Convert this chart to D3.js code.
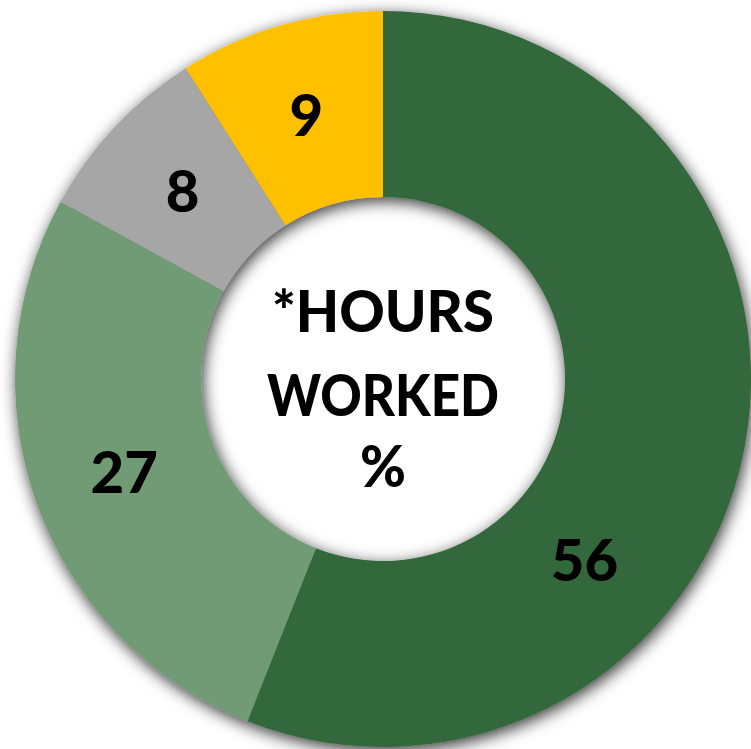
<!DOCTYPE html>
<html>
<head>
<meta charset="utf-8">
<script src="https://cdn.jsdelivr.net/npm/d3@7"></script>
<style>
  html, body { margin: 0; padding: 0; background: #fff; }
  svg { display: block; }
</style>
</head>
<body>
<script>
'use strict';

// data
const categories = ["Segment 1", "Segment 2", "Segment 3", "Segment 4"];
const values = [56, 27, 8, 9];
const colors = ["#33673b", "#709b75", "#a6a6a6", "#ffc000"];
const centerLines = ["*HOURS", "WORKED", "%"];

function createDonut(width, height) {
    let svg = d3.create("svg")
        .attr("width", width)
        .attr("height", height);

    let cx = 383, cy = 379;
    let outer = 368, inner = 182;

    let defs = svg.append("defs");
    let f = defs.append("filter")
        .attr("id", "shadow")
        .attr("x", "-20%").attr("y", "-20%")
        .attr("width", "140%").attr("height", "140%");
    f.append("feDropShadow")
        .attr("dx", 2).attr("dy", 4)
        .attr("stdDeviation", 8)
        .attr("flood-color", "#000")
        .attr("flood-opacity", 0.8);

    let color = d3.scaleOrdinal().domain(categories).range(colors);

    let pie = d3.pie().sort(null).value(d => d.value);
    let arcs = pie(categories.map((c, i) => ({ key: c, value: values[i] })));

    let arc = d3.arc().innerRadius(inner).outerRadius(outer);
    let labelArc = d3.arc().innerRadius(275).outerRadius(275);

    let g = svg.append("g")
        .attr("transform", "translate(" + cx + "," + cy + ")");

    g.append("g")
        .attr("filter", "url(#shadow)")
        .selectAll("path")
        .data(arcs)
        .enter().append("path")
        .attr("d", arc)
        .attr("fill", d => color(d.data.key));

    // the big slice's label was dragged off its centroid in the original
    let labelAngle = { "Segment 1": 132 * Math.PI / 180 };

    g.append("g")
        .selectAll("text")
        .data(arcs)
        .enter().append("text")
        .attr("transform", d => {
            let p;
            if (labelAngle[d.data.key] !== undefined) {
                let a = labelAngle[d.data.key];
                p = [271 * Math.sin(a), -271 * Math.cos(a)];
            } else {
                p = labelArc.centroid(d);
            }
            return "translate(" + p[0] + "," + (p[1] + 21) + ")";
        })
        .attr("text-anchor", "middle")
        .style("font-family", "Lato, 'Open Sans', sans-serif")
        .style("font-weight", "900")
        .style("font-size", "58px")
        .attr("fill", "#000")
        .text(d => d.data.value);

    let baselines = [332, 416, 487];
    let widths = [222, 232, 46];
    g.append("g")
        .selectAll("text")
        .data(centerLines)
        .enter().append("text")
        .attr("x", 0)
        .attr("y", (d, i) => baselines[i] - cy)
        .attr("text-anchor", "middle")
        .attr("textLength", (d, i) => widths[i])
        .attr("lengthAdjust", "spacingAndGlyphs")
        .style("font-family", "Lato, 'Open Sans', sans-serif")
        .style("font-weight", "900")
        .style("font-size", "58px")
        .attr("fill", "#000")
        .text(d => d);

    d3.select("body").append(() => svg.node());
    return svg.node();
}

createDonut(751, 749);
</script>
</body>
</html>
